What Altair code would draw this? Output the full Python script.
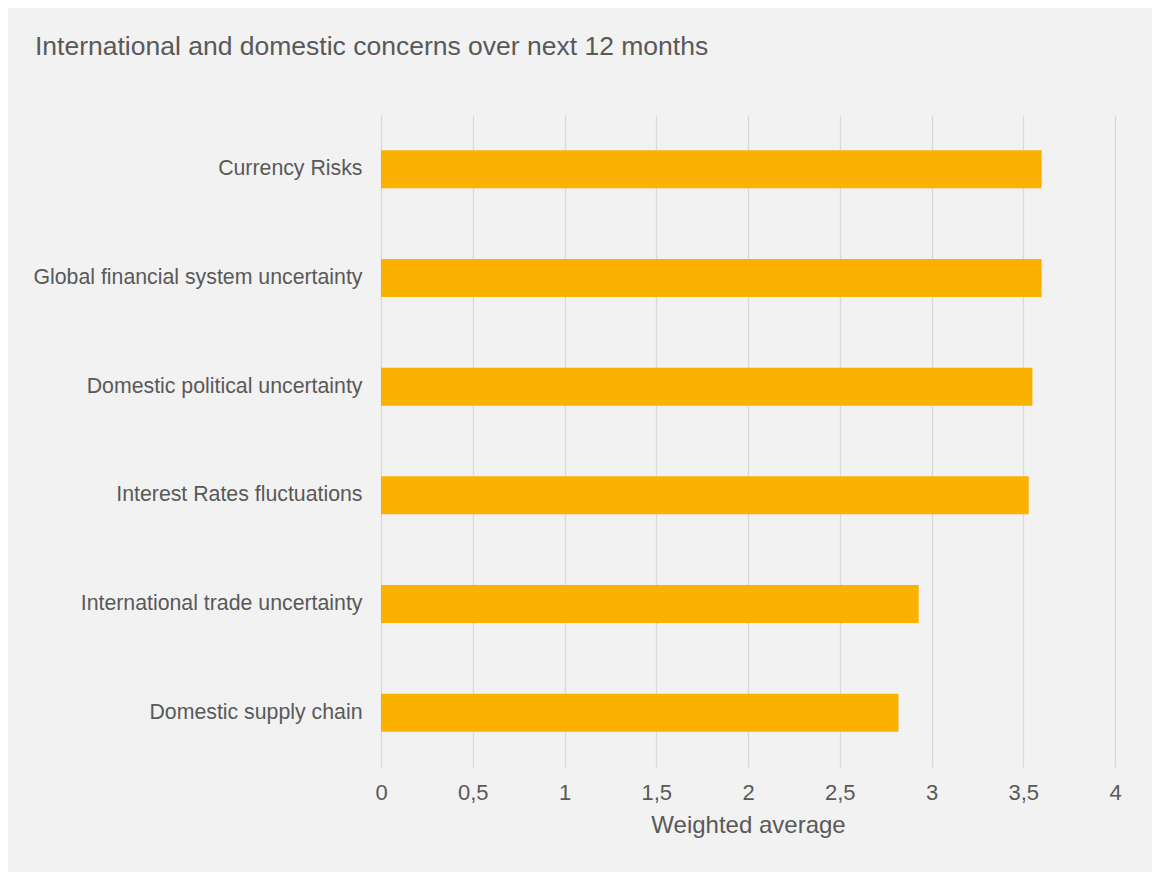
import altair as alt
import pandas as pd

categories = [
    "Currency Risks",
    "Global financial system uncertainty",
    "Domestic political uncertainty",
    "Interest Rates fluctuations",
    "International trade uncertainty",
    "Domestic supply chain",
]
values = [3.60, 3.60, 3.55, 3.53, 2.93, 2.82]
x_ticks = [0, 0.5, 1, 1.5, 2, 2.5, 3, 3.5, 4]

df = pd.DataFrame({"category": categories, "value": values})

FONT = "Liberation Sans"
TXT = "#595959"

chart = (
    alt.Chart(df)
    .mark_bar(color="#FBB100")
    .encode(
        x=alt.X(
            "value:Q",
            scale=alt.Scale(domain=[0, 4], nice=False),
            axis=alt.Axis(
                values=x_ticks,
                title="Weighted average",
                labelExpr="replace(toString(datum.value), '.', ',')",
                grid=True,
                gridColor="#d9d9d9",
                gridWidth=1.3,
                domain=False,
                ticks=False,
                labelPadding=15,
                labelFontSize=22,
                labelColor=TXT,
                labelFont=FONT,
                titleFont=FONT,
                titleFontSize=24,
                titleFontWeight="normal",
                titleColor=TXT,
                titlePadding=10,
                labelFlush=False,
            ),
        ),
        y=alt.Y(
            "category:N",
            sort=categories,
            scale=alt.Scale(paddingInner=0.65, paddingOuter=0.325),
            axis=alt.Axis(
                title=None,
                domain=False,
                ticks=False,
                grid=False,
                labelPadding=19,
                labelFontSize=21.3,
                labelColor=TXT,
                labelFont=FONT,
                labelLimit=400,
            ),
        ),
    )
    .properties(
        width=734,
        height=652,
        autosize=alt.AutoSizeParams(type="none"),
        padding={"left": 373, "top": 107, "right": 37, "bottom": 105},
        background="#f2f2f2",
        title=alt.TitleParams(
            text="International and domestic concerns over next 12 months",
            anchor="start",
            frame="group",
            dx=-346,
            offset=55,
            font=FONT,
            fontSize=26.5,
            fontWeight="normal",
            color=TXT,
        ),
    )
    .configure_view(stroke=None)
)

chart.save("out.html", embed_options={"renderer": "svg", "actions": False})
